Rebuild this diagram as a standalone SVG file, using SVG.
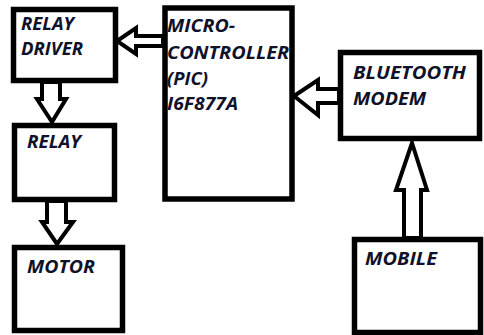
<svg xmlns="http://www.w3.org/2000/svg" width="484" height="335" viewBox="0 0 484 335">
  <style>
    .box { fill: #ffffff; stroke: #000000; stroke-width: 5.5; }
    .arrow { fill: #ffffff; stroke: #000000; stroke-width: 4; stroke-linejoin: miter; }
    .label { font-family: "Open Sans", "DejaVu Sans", sans-serif; font-weight: bold; font-style: italic; font-size: 17px; fill: #10122a; }
  </style>
  <rect width="484" height="335" fill="#ffffff"/>

  <!-- block arrows between the units -->
  <g id="connectors">
    <polygon class="arrow" points="117,41 136,28 136,36 163,36 163,46 136,46 136,54"/>
    <polygon class="arrow" points="294,96 318,80 318,89 339,89 339,103 318,103 318,115"/>
    <polygon class="arrow" points="42,82 60,82 60,99 66,99 52,122 37,99 42,99"/>
    <polygon class="arrow" points="47,201 66,201 66,222 73,222 57,244 42,222 47,222"/>
    <polygon class="arrow" points="412,143 427,190 421,190 421,238 404,238 404,190 396,190"/>
  </g>

  <g id="relay-driver">
    <rect class="box" x="13.5" y="9.5" width="102" height="71"/>
    <text class="label" x="21" y="30" textLength="53" lengthAdjust="spacingAndGlyphs">RELAY</text>
    <text class="label" x="21" y="55" textLength="62" lengthAdjust="spacingAndGlyphs">DRIVER</text>
  </g>

  <g id="relay">
    <rect class="box" x="14.5" y="125.5" width="100" height="74"/>
    <text class="label" x="27" y="148" textLength="54" lengthAdjust="spacingAndGlyphs">RELAY</text>
  </g>

  <g id="motor">
    <rect class="box" x="14.5" y="247.5" width="108" height="83"/>
    <text class="label" x="27" y="273" textLength="68" lengthAdjust="spacingAndGlyphs">MOTOR</text>
  </g>

  <g id="microcontroller">
    <rect class="box" x="165" y="8" width="127" height="191"/>
    <text class="label" x="167" y="32" textLength="68" lengthAdjust="spacingAndGlyphs">MICRO-</text>
    <text class="label" x="167" y="59" textLength="122" lengthAdjust="spacingAndGlyphs">CONTROLLER</text>
    <text class="label" x="167" y="85" textLength="41" lengthAdjust="spacingAndGlyphs">(PIC)</text>
    <text class="label" x="167" y="110" textLength="71" lengthAdjust="spacingAndGlyphs">I6F877A</text>
  </g>

  <g id="bluetooth-modem">
    <rect class="box" x="340.5" y="52.5" width="139" height="86"/>
    <text class="label" x="353" y="79" textLength="113" lengthAdjust="spacingAndGlyphs">BLUETOOTH</text>
    <text class="label" x="353" y="105" textLength="73" lengthAdjust="spacingAndGlyphs">MODEM</text>
  </g>

  <g id="mobile">
    <rect class="box" x="354.5" y="239.5" width="126" height="93"/>
    <text class="label" x="365" y="265" textLength="72" lengthAdjust="spacingAndGlyphs">MOBILE</text>
  </g>
</svg>
